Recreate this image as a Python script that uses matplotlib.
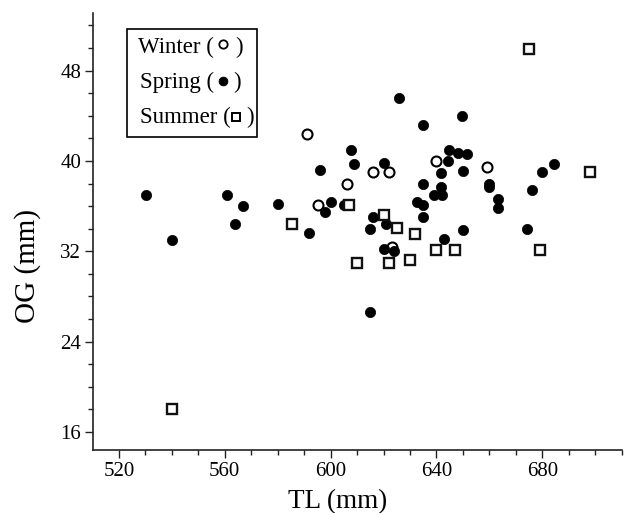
import matplotlib
matplotlib.use("Agg")
import matplotlib.pyplot as plt
from matplotlib.ticker import MultipleLocator
from matplotlib.patches import Rectangle

plt.rcParams["font.family"] = ["Liberation Serif", "DejaVu Serif"]

# Total length (TL, mm) and OG (mm) per season
winter_tl = [591.0, 606.1, 616.0, 595.2, 622.2, 639.9, 659.1, 623.1]
winter_og = [42.4, 38.0, 39.0, 36.1, 39.0, 40.0, 39.5, 32.4]

spring_tl = [530.2, 540.2, 561.0, 567.0, 564.0, 580.1, 592.0, 596.1, 607.7, 608.9,
             600.2, 597.9, 605.1, 616.1, 614.9, 614.9, 626.0, 634.9, 649.8, 644.9,
             648.0, 651.7, 644.2, 620.0, 641.8, 650.0, 634.9, 641.8, 639.1, 642.0,
             660.0, 660.0, 663.1, 663.1, 632.8, 634.9, 634.9, 676.1, 679.9, 684.3,
             621.0, 650.0, 674.2, 642.9, 620.0, 624.0]
spring_og = [37.0, 33.0, 37.0, 36.0, 34.4, 36.2, 33.6, 39.2, 41.0, 39.7,
             36.4, 35.5, 36.1, 35.0, 34.0, 26.6, 45.6, 43.2, 44.0, 41.0,
             40.7, 40.6, 40.0, 39.8, 38.9, 39.1, 38.0, 37.7, 37.0, 37.0,
             38.0, 37.7, 36.6, 35.8, 36.4, 36.1, 35.0, 37.4, 39.0, 39.7,
             34.4, 33.9, 34.0, 33.1, 32.2, 32.0]

summer_tl = [675.1, 698.1, 585.3, 607.1, 610.1, 620.0, 625.0, 632.0, 639.8, 647.1,
             679.0, 622.1, 630.1, 540.2]
summer_og = [49.9, 39.0, 34.4, 36.1, 31.0, 35.2, 34.1, 33.5, 32.1, 32.1,
             32.1, 31.0, 31.2, 18.0]

x_major = [520, 560, 600, 640, 680]
y_major = [16, 24, 32, 40, 48]

fig = plt.figure(figsize=(6.27, 5.13), dpi=100)
ax = fig.add_axes([93 / 627, 1 - 450 / 513, 528.7 / 627, 437 / 513])

ax.plot(winter_tl, winter_og, linestyle="none", marker="o", markersize=7.2,
        markerfacecolor="white", markeredgecolor="black", markeredgewidth=1.5)
ax.plot(spring_tl, spring_og, linestyle="none", marker="o", markersize=7.4,
        markerfacecolor="black", markeredgecolor="black", markeredgewidth=0.5)
ax.plot(summer_tl, summer_og, linestyle="none", marker="s", markersize=6.6,
        markerfacecolor="white", markeredgecolor="#111111", markeredgewidth=1.7)

ax.set_xlim(510.2, 710)
ax.set_ylim(14.4, 53.1)
ax.set_xticks(x_major)
ax.set_yticks(y_major)
ax.xaxis.set_minor_locator(MultipleLocator(10))
ax.yaxis.set_minor_locator(MultipleLocator(2))

for side in ("top", "right"):
    ax.spines[side].set_visible(False)
for side in ("left", "bottom"):
    ax.spines[side].set_linewidth(1.2)
    ax.spines[side].set_color("#222222")

ax.tick_params(axis="both", which="major", direction="out", length=5.5, width=1.0,
               color="#222222", labelsize=15, pad=3)
ax.tick_params(axis="both", which="minor", direction="out", length=3.5, width=1.0,
               color="#222222")

ax.set_xlabel("TL (mm)", fontsize=19.5, va="baseline")
ax.xaxis.set_label_coords(0.463, -0.133)
ax.set_ylabel("OG (mm)", fontsize=21, va="center", ha="center")
ax.yaxis.set_label_coords(-0.123, 0.421)

# Season key drawn inside a framed box
ax.add_patch(Rectangle((0.0637, 0.7156), 0.2459, 0.2471, transform=ax.transAxes,
                       facecolor="white", edgecolor="black", linewidth=1.2, zorder=5))
key_size = 16.5
rows = [
    ("Winter (", 0.2294, 0.9092, 0.2463, 0.9284, 0.2686,
     dict(marker="o", markersize=6, markerfacecolor="white", markeredgewidth=1.3)),
    ("Spring (", 0.2289, 0.8291, 0.2453, 0.8444, 0.2654,
     dict(marker="o", markersize=6.4, markerfacecolor="black", markeredgewidth=0.5)),
    ("Summer (", 0.2603, 0.7490, 0.2705, 0.7627, 0.2907,
     dict(marker="s", markersize=5.2, markerfacecolor="white", markeredgewidth=1.4)),
]
for label, tx, ty, mx, my, px, mstyle in rows:
    ax.text(tx, ty, label, transform=ax.transAxes, ha="right", va="baseline",
            fontsize=key_size, zorder=6)
    ax.plot([mx], [my], transform=ax.transAxes, linestyle="none",
            markeredgecolor="black", zorder=6, clip_on=False, **mstyle)
    ax.text(px, ty, ")", transform=ax.transAxes, ha="left", va="baseline",
            fontsize=key_size, zorder=6)

fig.savefig("out.png", dpi=100)
